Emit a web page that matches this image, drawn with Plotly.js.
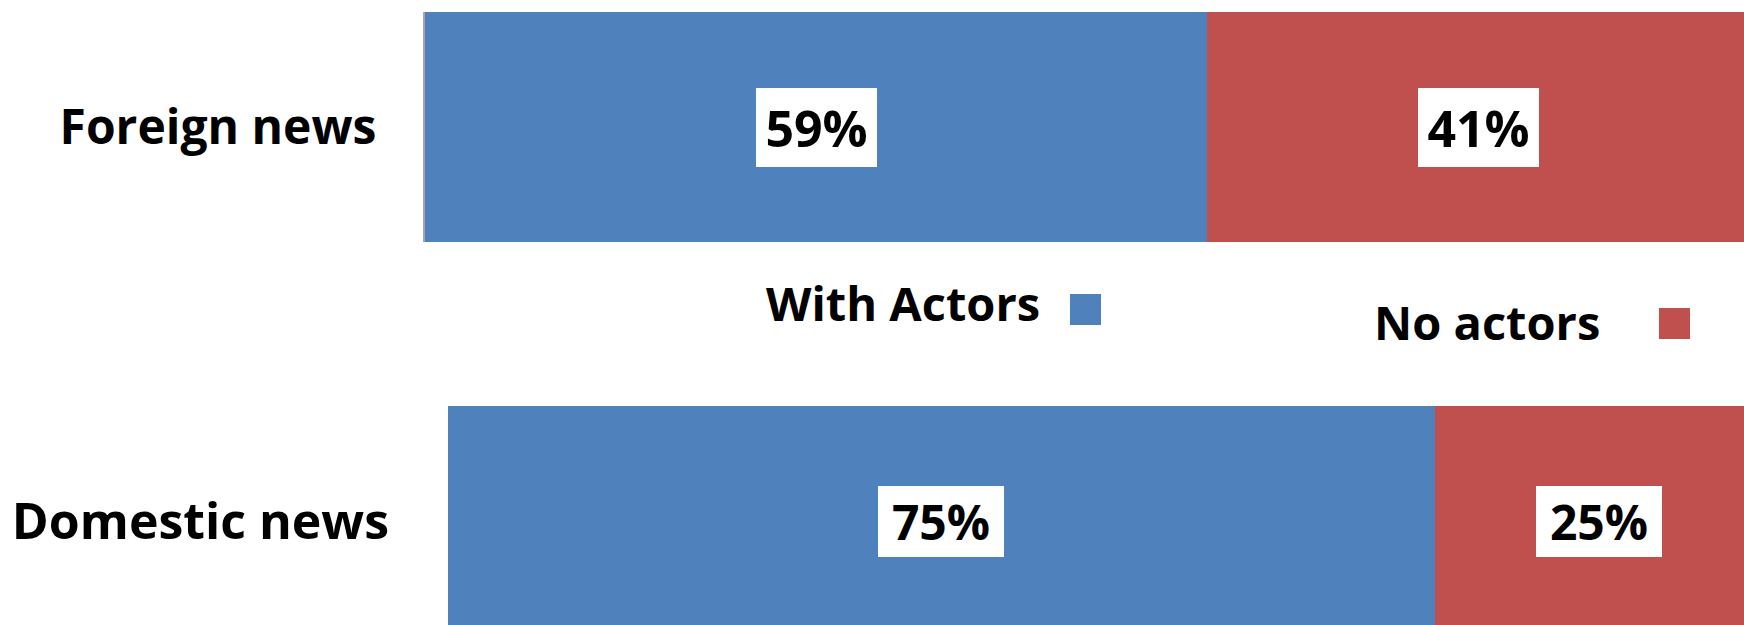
<!DOCTYPE html>
<html>
<head>
<meta charset="utf-8">
<script src="https://cdn.plot.ly/plotly-3.0.1.min.js"></script>
<style>
  html, body { margin: 0; padding: 0; background: #ffffff; }
  #chart { width: 1744px; height: 625px; }
</style>
</head>
<body>
<div id="chart"></div>
<script>
// ---- data ----
const categories = ['Foreign news', 'Domestic news'];
const seriesNames = ['With Actors', 'No actors'];
const withActors = [59, 75];
const noActors = [41, 25];
const seriesColors = ['#4F81BD', '#C0504D'];

const FONT = '"Open Sans", "DejaVu Sans", sans-serif';
const W = 1744, H = 625;

const axesSets = [
  { xa: 'x',  ya: 'y'  },
  { xa: 'x2', ya: 'y2' }
];

const traces = [];
categories.forEach((cat, i) => {
  const ax = axesSets[i];
  [withActors, noActors].forEach((vals, s) => {
    traces.push({
      type: 'bar',
      orientation: 'h',
      name: seriesNames[s],
      x: [vals[i]],
      y: [cat],
      width: 1,
      xaxis: ax.xa,
      yaxis: ax.ya,
      marker: { color: seriesColors[s], line: { width: 0 } },
      hoverinfo: 'skip',
      showlegend: false
    });
  });
});

// value labels (white boxes) at the centre of each segment
const annotations = [];
const boxSizes = [[121, 79], [126, 71]];
const labelSizes = [50, 48];
categories.forEach((cat, i) => {
  const ax = axesSets[i];
  const segs = [withActors[i], noActors[i]];
  let cum = 0;
  segs.forEach((v) => {
    annotations.push({
      x: cum + v / 2,
      y: cat,
      xref: ax.xa,
      yref: ax.ya,
      text: '<b>' + v + '%</b>',
      showarrow: false,
      bgcolor: '#ffffff',
      borderpad: 0,
      borderwidth: 0,
      width: boxSizes[i][0],
      height: boxSizes[i][1],
      font: { family: FONT, size: labelSizes[i], color: '#000000' }
    });
    cum += v;
  });
});

// custom legend (text followed by swatch, as in the reference)
const legendItems = [
  { text: seriesNames[0], xr: 1042, yc: 303, sq: [1070, 294], color: seriesColors[0] },
  { text: seriesNames[1], xr: 1602, yc: 322, sq: [1659, 308], color: seriesColors[1] }
];
const shapes = [];
legendItems.forEach((it) => {
  annotations.push({
    x: it.xr / W, y: 1 - it.yc / H,
    xref: 'paper', yref: 'paper',
    xanchor: 'right', yanchor: 'middle',
    text: '<b>' + it.text + '</b>',
    showarrow: false,
    font: { family: FONT, size: 47, color: '#000000' }
  });
  shapes.push({
    type: 'rect', xref: 'paper', yref: 'paper',
    x0: it.sq[0] / W, x1: (it.sq[0] + 31) / W,
    y0: 1 - (it.sq[1] + 31) / H, y1: 1 - it.sq[1] / H,
    fillcolor: it.color, line: { width: 0 }
  });
});

const yCommon = {
  type: 'category',
  showgrid: false,
  zeroline: false,
  ticks: '',
  fixedrange: true
};
const xCommon = {
  visible: false,
  showgrid: false,
  zeroline: false,
  fixedrange: true
};

const layout = {
  width: W,
  height: H,
  margin: { l: 0, r: 0, t: 0, b: 0, pad: 0 },
  paper_bgcolor: '#ffffff',
  plot_bgcolor: 'rgba(0,0,0,0)',
  barmode: 'stack',
  bargap: 0,
  showlegend: false,
  font: { family: FONT, color: '#000000' },
  xaxis: Object.assign({}, xCommon, { domain: [425 / W, 1], range: [0, 99.5], anchor: 'y' }),
  yaxis: Object.assign({}, yCommon, {
    domain: [1 - 242 / H, 1 - 12 / H], range: [-0.5, 0.5], anchor: 'x',
    tickfont: { family: FONT, size: 48, color: '#000000', weight: 'bold' },
    ticklabelstandoff: 37, showline: true, linecolor: '#a6a6a6', linewidth: 2
  }),
  xaxis2: Object.assign({}, xCommon, { domain: [448 / W, 1], range: [0, 98.5], anchor: 'y2' }),
  yaxis2: Object.assign({}, yCommon, {
    domain: [0, 1 - 406 / H], range: [-0.452, 0.5], anchor: 'x2',
    tickfont: { family: FONT, size: 50, color: '#000000', weight: 'bold' },
    ticklabelstandoff: 58
  }),
  annotations: annotations,
  shapes: shapes
};

Plotly.newPlot('chart', traces, layout, { displayModeBar: false, staticPlot: true });
</script>
</body>
</html>
